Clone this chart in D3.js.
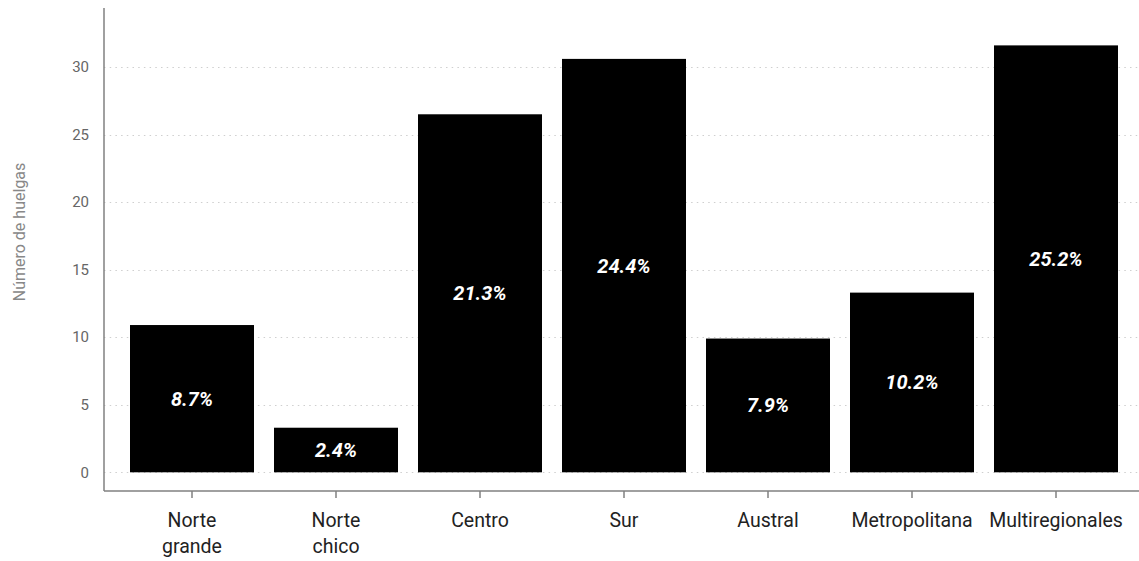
<!DOCTYPE html>
<html>
<head>
<meta charset="utf-8">
<script src="https://cdn.jsdelivr.net/npm/d3@7"></script>
<style>
  body { margin: 0; background: #fff; }
  svg { display: block; font-family: Roboto, 'Noto Sans', sans-serif; }
</style>
</head>
<body>
<svg id="chart" width="1139" height="561"></svg>
<script>
const regions = [['Norte', 'grande'], ['Norte', 'chico'], ['Centro'], ['Sur'], ['Austral'], ['Metropolitana'], ['Multiregionales']]
const strikes = [10.9, 3.3, 26.5, 30.6, 9.9, 13.3, 31.6]
const shares = ['8.7%', '2.4%', '21.3%', '24.4%', '7.9%', '10.2%', '25.2%']
const yTicks = [0, 5, 10, 15, 20, 25, 30]

const svg = d3.select('#chart')

const left = 104
const right = 1139
const axisY = 491

const x = d3.scaleBand()
  .domain(d3.range(regions.length))
  .range([120, 1128])
  .paddingInner(20 / 144)
  .paddingOuter(10 / 144)

const y = d3.scaleLinear()
  .domain([0, 30])
  .range([472.3, 67])

// dotted grid
svg.append('g')
  .selectAll('line')
  .data(yTicks)
  .enter()
  .append('line')
  .attr('x1', left)
  .attr('x2', right)
  .attr('y1', d => Math.round(y(d)) + 0.5)
  .attr('y2', d => Math.round(y(d)) + 0.5)
  .attr('stroke', '#cfcfcf')
  .attr('stroke-width', 1.2)
  .attr('stroke-dasharray', '1.5,4.2')

// y tick labels
svg.append('g')
  .selectAll('text')
  .data(yTicks)
  .enter()
  .append('text')
  .attr('x', 89)
  .attr('y', d => y(d))
  .attr('dy', '0.35em')
  .attr('text-anchor', 'end')
  .attr('font-size', 15)
  .attr('fill', '#666')
  .text(d => d)

// bars
svg.append('g')
  .selectAll('rect')
  .data(strikes)
  .enter()
  .append('rect')
  .attr('x', (d, i) => x(i))
  .attr('y', d => y(d))
  .attr('width', x.bandwidth())
  .attr('height', d => y(0) - y(d))
  .attr('fill', '#000')

// share labels inside bars
svg.append('g')
  .selectAll('text')
  .data(strikes)
  .enter()
  .append('text')
  .attr('x', (d, i) => x(i) + x.bandwidth() / 2)
  .attr('y', d => (y(d) + y(0)) / 2)
  .attr('dy', '0.35em')
  .attr('text-anchor', 'middle')
  .attr('font-size', 20)
  .attr('font-weight', 'bold')
  .attr('font-style', 'italic')
  .attr('fill', '#fff')
  .text((d, i) => shares[i])

// axes lines
svg.append('line')
  .attr('x1', left).attr('x2', left)
  .attr('y1', 8).attr('y2', axisY)
  .attr('stroke', '#808080').attr('stroke-width', 1.5)
svg.append('line')
  .attr('x1', left).attr('x2', right)
  .attr('y1', axisY).attr('y2', axisY)
  .attr('stroke', '#808080').attr('stroke-width', 1.5)

// x ticks + category labels
const cats = svg.append('g')
  .selectAll('g')
  .data(regions)
  .enter()
  .append('g')
  .attr('transform', (d, i) => 'translate(' + (x(i) + x.bandwidth() / 2) + ',' + axisY + ')')

cats.append('line')
  .attr('y1', 0).attr('y2', 7)
  .attr('stroke', '#808080').attr('stroke-width', 1.5)

cats.append('text')
  .attr('text-anchor', 'middle')
  .attr('font-size', 19.5)
  .attr('fill', '#222')
  .selectAll('tspan')
  .data(d => d)
  .enter()
  .append('tspan')
  .attr('x', 0)
  .attr('y', (d, i) => 36 + i * 26)
  .text(d => d)

// y axis title
svg.append('text')
  .attr('transform', 'translate(25,232) rotate(-90)')
  .attr('text-anchor', 'middle')
  .attr('font-size', 16)
  .attr('fill', '#888')
  .text('Número de huelgas')
</script>
</body>
</html>
